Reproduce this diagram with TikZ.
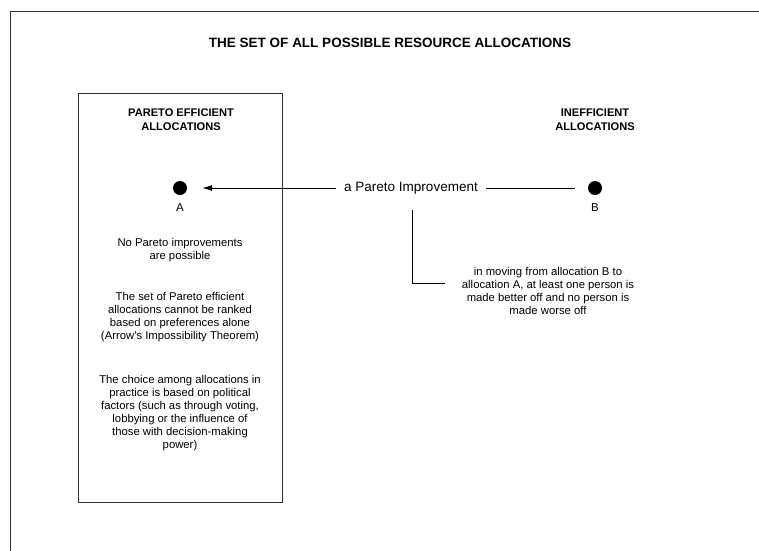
\documentclass[tikz,border=0pt]{standalone}
\usepackage{fontspec}
\setmainfont{Liberation Sans}
\usetikzlibrary{arrows.meta}
\tikzset{
  frameline/.style={draw=black!80, line width=1pt},
  dot/.style={circle, fill=black, minimum size=14pt, inner sep=0pt},
  lbl/.style={font=\fontsize{11.5}{13}\selectfont, inner sep=0pt},
  head/.style={font=\fontsize{11.1}{14}\selectfont\bfseries, align=center, inner sep=0pt},
  body/.style={font=\fontsize{11.3}{13}\selectfont, align=center, inner sep=0pt},
  conn/.style={draw=black, line width=0.8pt},
}
\begin{document}
\begin{tikzpicture}[x=1pt, y=-1pt]
\useasboundingbox (0,0) rectangle (759,550);
% outer frame (only top and left edges visible)
\coordinate (fBL) at (10,551);
\coordinate (fTL) at (10,11);
\coordinate (fTR) at (760,11);
\draw[frameline] (fBL) -- (fTL) -- (fTR);
% title
\node[font=\fontsize{13.5}{16}\selectfont\bfseries, inner sep=0pt] (title) at (390,43) {THE SET OF ALL POSSIBLE RESOURCE ALLOCATIONS};
% efficient box
\node[frameline, minimum width=204pt, minimum height=409pt, inner sep=0pt] (box) at (180,297.5) {};
\node[head] (effh) at (181,120) {PARETO EFFICIENT\\ALLOCATIONS};
\node[head] (ineh) at (595,120) {INEFFICIENT\\ALLOCATIONS};
% dots
\node[dot] (dA) at (180,188) {};
\node[dot] (dB) at (595,188) {};
\node[lbl] (lA) at (180,208) {A};
\node[lbl] (lB) at (595,208) {B};
% pareto improvement
\node[font=\fontsize{13.5}{16}\selectfont, inner xsep=8pt, inner ysep=0pt] (pi) at (411,188) {a Pareto Improvement};
\draw[conn, -{Latex[length=10pt, width=6pt]}, shorten >=15pt] (pi.west) -- (dA.east);
\draw[conn, shorten >=13pt] (pi.east) -- (dB.west);
% callout
\coordinate (c1) at (412,210);
\coordinate (c2) at (412,283);
\coordinate (c3) at (445,283);
\draw[conn] (c1) -- (c2) -- (c3);
\node[body] (expl) at (548,291) {in moving from allocation B to\\allocation A, at least one person is\\made better off and no person is\\made worse off};
% box texts
\node[body] (t1) at (180,250.5) {No Pareto improvements\\are possible};
\node[body] (t2) at (180,317.5) {The set of Pareto efficient\\allocations cannot be ranked\\based on preferences alone\\(Arrow's Impossibility Theorem)};
\node[body] (t3) at (180,413) {The choice among allocations in\\practice is based on political\\factors (such as through voting,\\lobbying or the influence of\\those with decision-making\\power)};
\end{tikzpicture}
\end{document}
